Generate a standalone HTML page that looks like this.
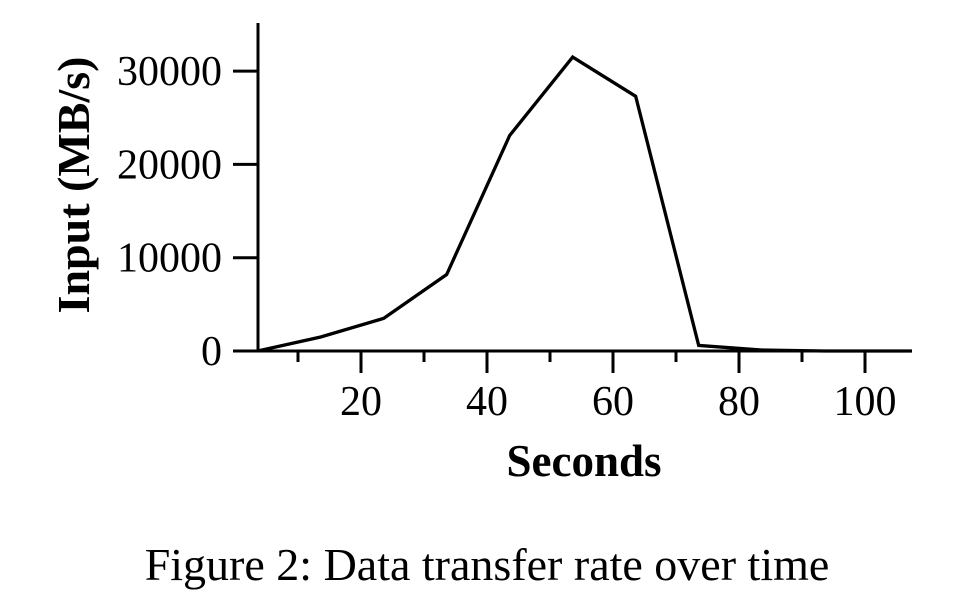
<!DOCTYPE html>
<html><head><meta charset="utf-8"><style>
html,body{margin:0;padding:0;background:#fff;}
svg{display:block;}
text{font-family:"Liberation Serif",serif;fill:#000;}
</style></head><body>
<svg id="chart" width="975" height="597" viewBox="0 0 975 597" xmlns="http://www.w3.org/2000/svg">
<g id="axes"></g>
<text transform="translate(89,185) rotate(-90)" text-anchor="middle" font-size="46" font-weight="bold">Input (MB/s)</text>
<text x="584" y="476" text-anchor="middle" font-size="45" font-weight="bold">Seconds</text>
<text x="487" y="580" text-anchor="middle" font-size="46">Figure 2: Data transfer rate over time</text>
</svg>
<script>
const seconds = [3.6, 13.6, 23.6, 33.6, 43.6, 53.6, 63.6, 73.6, 83.6, 93.6, 103.6, 107.4];
const inputRate = [0, 1500, 3500, 8200, 23100, 31500, 27300, 600, 100, 0, 0, 0];
const xTicks = [20, 40, 60, 80, 100];
const xMinorTicks = [10, 30, 50, 70, 90];
const yTicks = [0, 10000, 20000, 30000];

const NS = "http://www.w3.org/2000/svg";
const xScale = v => 235 + (v) * 6.3;
const yScale = v => 351 - v * 0.00933;
const g = document.getElementById('axes');
function mk(tag, attrs){const e=document.createElementNS(NS,tag);for(const k in attrs)e.setAttribute(k,attrs[k]);g.appendChild(e);return e;}

let e = mk('line',{x1:258,y1:23,x2:258,y2:352,stroke:'#000','stroke-width':3});


e = mk('line',{x1:233,y1:351,x2:912,y2:351,stroke:'#000','stroke-width':3});



xTicks.forEach(v=>{
  const x=xScale(v);
  let t=mk('line',{x1:x,y1:351,x2:x,y2:373,stroke:'#000','stroke-width':3});
  
  
  let l=mk('text',{x:x,y:415,'text-anchor':'middle','font-size':42});
  l.textContent=v;
  
  
});
xMinorTicks.forEach(v=>{
  const x=xScale(v);
  let t=mk('line',{x1:x,y1:351,x2:x,y2:362,stroke:'#000','stroke-width':3});
  
  
});
yTicks.forEach(v=>{
  const y=yScale(v);
  if(v>0){
    let t=mk('line',{x1:233,y1:y,x2:258,y2:y,stroke:'#000','stroke-width':3});
    
    
  }
  let l=mk('text',{x:222,y:y+14,'text-anchor':'end','font-size':42});
  l.textContent=v;
  
  
});
const pts = seconds.map((s,i)=>xScale(s)+','+yScale(inputRate[i])).join(' ');
e = mk('polyline',{points:pts,fill:'none',stroke:'#000','stroke-width':3.3,'stroke-linejoin':'miter'});


</script>
</body></html>
